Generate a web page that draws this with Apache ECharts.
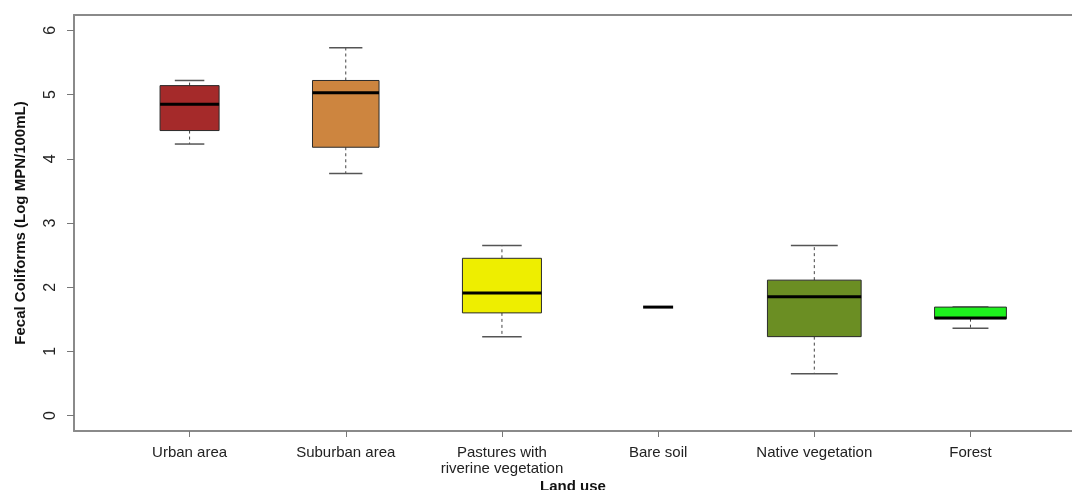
<!DOCTYPE html>
<html>
<head>
<meta charset="utf-8">
<script src="https://cdn.jsdelivr.net/npm/echarts@6/dist/echarts.min.js"></script>
<style>
  html, body { margin: 0; padding: 0; background: #fff; }
  #chart { width: 1072px; height: 490px; }
</style>
</head>
<body>
<div id="chart"></div>
<script>
// ---- data ----
const categories = ['Urban area', 'Suburban area', 'Pastures with\nriverine vegetation', 'Bare soil', 'Native vegetation', 'Forest'];
const lowerWhisker = [4.23, 3.77, 1.23, 1.69, 0.65, 1.36];
const q1 = [4.44, 4.18, 1.60, 1.69, 1.23, 1.51];
const median = [4.85, 5.03, 1.91, 1.69, 1.85, 1.52];
const q3 = [5.14, 5.22, 2.45, 1.69, 2.11, 1.69];
const upperWhisker = [5.22, 5.73, 2.65, 1.69, 2.65, 1.69];
const yTicks = [0, 1, 2, 3, 4, 5, 6];

// ---- style ----
const boxColors = ['#A52A2A', '#CD853F', '#EEEE00', '#6B8E23', '#6B8E23', '#1EF01E'];
const boxWidths = [0.378, 0.426, 0.506, 0.192, 0.60, 0.46]; // in category units (varwidth)
const FONT = "'Liberation Sans', Arial, sans-serif";
const FRAME = { color: '#8a8a8a', width: 2 };

const xPositions = categories.map((c, i) => i + 1);
const seriesData = categories.map((c, i) => [xPositions[i], lowerWhisker[i], q1[i], median[i], q3[i], upperWhisker[i], i]);

const chart = echarts.init(document.getElementById('chart'), null, { renderer: 'canvas' });

function renderBox(params, api) {
  const x = api.value(0);
  const lw = api.value(1), b1 = api.value(2), md = api.value(3), b3 = api.value(4), uw = api.value(5);
  const idx = api.value(6);
  const halfW = api.size([boxWidths[idx], 0])[0] / 2;
  const cx = api.coord([x, 0])[0];
  const yLw = api.coord([x, lw])[1];
  const yQ1 = api.coord([x, b1])[1];
  const yMd = api.coord([x, md])[1];
  const yQ3 = api.coord([x, b3])[1];
  const yUw = api.coord([x, uw])[1];
  const capHalf = halfW / 2;
  const dashStyle = { stroke: '#444', lineWidth: 1, lineDash: [3, 3] };
  const capStyle = { stroke: '#555', lineWidth: 1.5 };
  const children = [
    { type: 'line', shape: { x1: cx, y1: yQ3, x2: cx, y2: yUw }, style: dashStyle },
    { type: 'line', shape: { x1: cx, y1: yQ1, x2: cx, y2: yLw }, style: dashStyle },
    { type: 'line', shape: { x1: cx - capHalf, y1: yUw, x2: cx + capHalf, y2: yUw }, style: capStyle },
    { type: 'line', shape: { x1: cx - capHalf, y1: yLw, x2: cx + capHalf, y2: yLw }, style: capStyle },
    { type: 'rect', shape: { x: cx - halfW, y: yQ3, width: halfW * 2, height: yQ1 - yQ3 },
      style: { fill: boxColors[idx], stroke: (yQ1 - yQ3) > 0.5 ? '#2a2a2a' : 'none', lineWidth: 1 } },
    { type: 'line', shape: { x1: cx - halfW, y1: yMd, x2: cx + halfW, y2: yMd }, style: { stroke: '#000', lineWidth: 3 } }
  ];
  return { type: 'group', children: children };
}

const option = {
  backgroundColor: '#fff',
  animation: false,
  grid: { left: 74, right: 0, top: 15, bottom: 59, show: false, containLabel: false, outerBoundsMode: 'none' },
  xAxis: [{
    type: 'value', min: 0.26, max: 6.65, position: 'bottom',
    name: 'Land use', nameLocation: 'middle', nameGap: 48, nameMoveOverlap: false,
    nameTextStyle: { fontFamily: FONT, fontWeight: 'bold', fontSize: 15, color: '#111' },
    axisLine: { show: true, onZero: false, lineStyle: FRAME },
    splitLine: { show: false },
    axisTick: { show: true, length: 6, customValues: xPositions, lineStyle: { color: '#777', width: 1 } },
    axisLabel: {
      customValues: xPositions, margin: 14,
      fontFamily: FONT, fontSize: 15, lineHeight: 16, color: '#222',
      formatter: v => categories[Math.round(v) - 1]
    }
  }, {
    type: 'value', min: 0.26, max: 6.65, position: 'top',
    axisLine: { show: true, onZero: false, lineStyle: FRAME },
    splitLine: { show: false }, axisTick: { show: false }, axisLabel: { show: false }
  }],
  yAxis: {
    type: 'value', min: -0.24, max: 6.24,
    name: 'Fecal Coliforms (Log MPN/100mL)', nameLocation: 'middle', nameGap: 46, nameRotate: 90, nameMoveOverlap: false,
    nameTextStyle: { fontFamily: FONT, fontWeight: 'bold', fontSize: 15, color: '#111' },
    axisLine: { show: true, onZero: false, lineStyle: FRAME },
    splitLine: { show: false },
    axisTick: { show: true, length: 7, customValues: yTicks, lineStyle: { color: '#777', width: 1 } },
    axisLabel: {
      customValues: yTicks, rotate: 90, margin: 15,
      fontFamily: FONT, fontSize: 16, color: '#222'
    }
  },
  series: [{
    type: 'custom',
    renderItem: renderBox,
    data: seriesData,
    encode: { x: 0, y: [1, 2, 3, 4, 5] },
    clip: false
  }]
};
chart.setOption(option);
</script>
</body>
</html>
